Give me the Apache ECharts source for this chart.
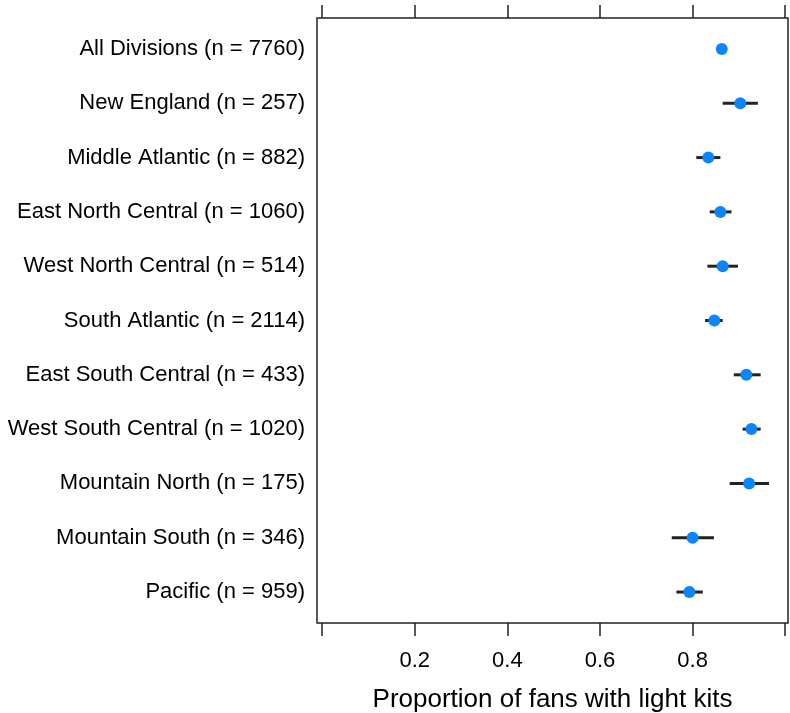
<!DOCTYPE html>
<html>
<head>
<meta charset="utf-8">
<script src="https://cdn.jsdelivr.net/npm/echarts@6/dist/echarts.min.js"></script>
<style>
  html, body { margin: 0; padding: 0; background: #fff; }
  #chart { width: 790px; height: 713px; }
</style>
</head>
<body>
<div id="chart"></div>
<script>
  // divisions, top to bottom
  const divisions = [
    'All Divisions (n = 7760)',
    'New England (n = 257)',
    'Middle Atlantic (n = 882)',
    'East North Central (n = 1060)',
    'West North Central (n = 514)',
    'South Atlantic (n = 2114)',
    'East South Central (n = 433)',
    'West South Central (n = 1020)',
    'Mountain North (n = 175)',
    'Mountain South (n = 346)',
    'Pacific (n = 959)'
  ];
  // proportion with light kits, and interval ends
  const proportion = [0.863, 0.903, 0.834, 0.860, 0.865, 0.847, 0.916, 0.927, 0.922, 0.800, 0.793];
  const lower = [0.853, 0.865, 0.808, 0.837, 0.832, 0.827, 0.889, 0.908, 0.880, 0.755, 0.765];
  const upper = [0.873, 0.941, 0.860, 0.884, 0.898, 0.865, 0.947, 0.947, 0.965, 0.846, 0.822];
  const xTicks = [0, 0.2, 0.4, 0.6, 0.8, 1.0];
  const xLabels = [0.2, 0.4, 0.6, 0.8];

  const font = '"Liberation Sans", Arial, sans-serif';
  const rows = divisions.map((d, i) => i);

  const xBase = {
    type: 'value',
    min: -0.011,
    max: 1.006,
    splitLine: { show: false },
    axisLine: { show: false, onZero: false },
    axisTick: {
      show: true, inside: false, length: 13, customValues: xTicks,
      lineStyle: { color: '#222', width: 1.5 }
    }
  };

  const chart = echarts.init(document.getElementById('chart'));
  chart.setOption({
    animation: false,
    textStyle: { fontFamily: font },
    grid: {
      left: 317, right: 2, top: 18, bottom: 90,
      outerBoundsMode: 'none',
      containLabel: false,
      show: true, borderColor: '#222', borderWidth: 1.5, backgroundColor: 'transparent'
    },
    xAxis: [
      Object.assign({}, xBase, {
        position: 'bottom',
        name: 'Proportion of fans with light kits',
        nameLocation: 'middle',
        nameGap: 64,
        nameTextStyle: { fontSize: 26, color: '#000', fontFamily: font },
        axisLabel: {
          show: true, customValues: xLabels, margin: 27,
          fontSize: 22, color: '#000', fontFamily: font,
          formatter: v => v.toFixed(1)
        }
      }),
      Object.assign({}, xBase, {
        position: 'top',
        axisLabel: { show: false }
      })
    ],
    yAxis: {
      type: 'value',
      inverse: true,
      min: -0.57,
      max: 10.57,
      splitLine: { show: false },
      axisLine: { show: false, onZero: false },
      axisTick: { show: false },
      axisLabel: {
        show: true, customValues: rows, margin: 12,
        fontSize: 22, color: '#000', fontFamily: font,
        formatter: v => divisions[v] || ''
      }
    },
    series: [
      {
        type: 'custom',
        xAxisIndex: 0,
        data: rows.map(i => [lower[i], upper[i], i]),
        renderItem: (params, api) => {
          const a = api.coord([api.value(0), api.value(2)]);
          const b = api.coord([api.value(1), api.value(2)]);
          return {
            type: 'line',
            shape: { x1: a[0], y1: a[1], x2: b[0], y2: b[1] },
            style: { stroke: '#222', lineWidth: 3 }
          };
        },
        z: 2
      },
      {
        type: 'scatter',
        xAxisIndex: 0,
        symbol: 'circle',
        symbolSize: 12,
        itemStyle: { color: '#0a84ff', opacity: 1 },
        data: rows.map(i => [proportion[i], i]),
        z: 3
      }
    ]
  });
</script>
</body>
</html>
